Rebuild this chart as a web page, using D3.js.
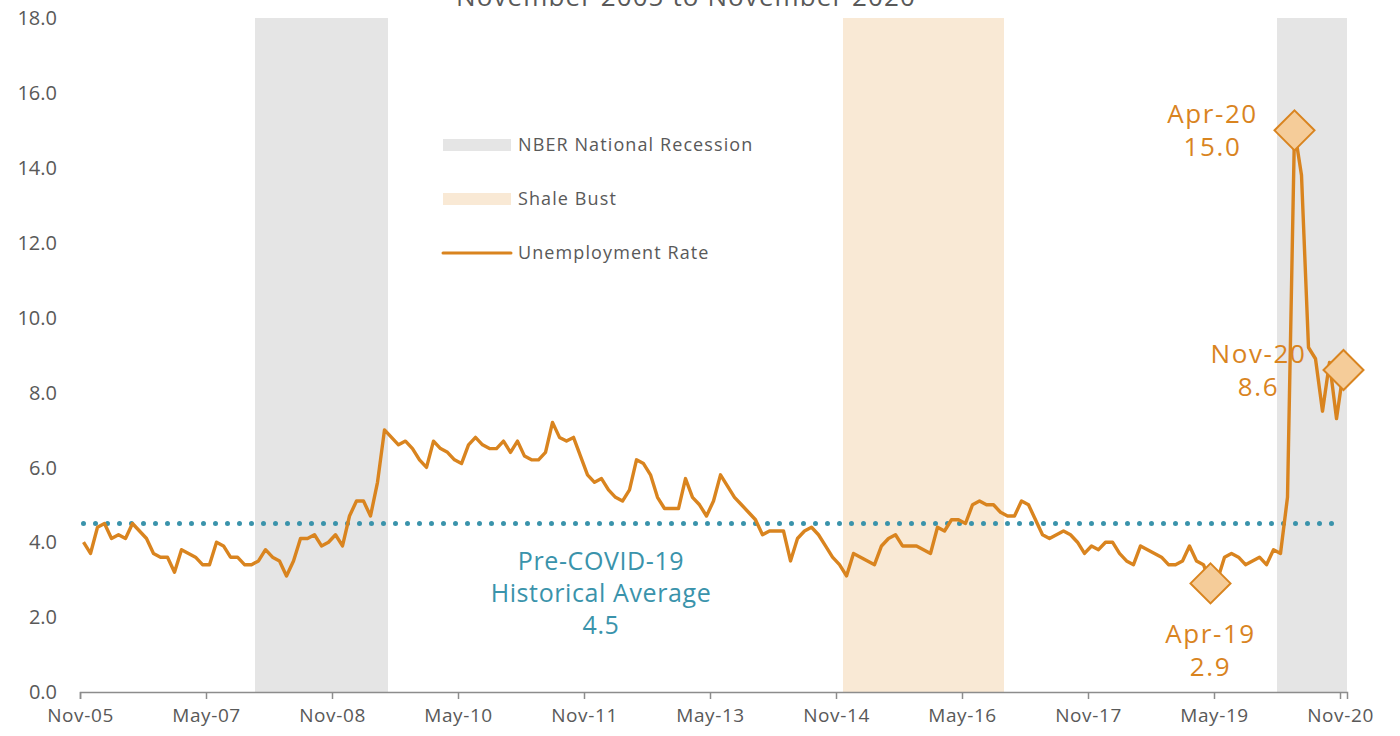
<!DOCTYPE html>
<html><head><meta charset="utf-8">
<script src="https://cdn.jsdelivr.net/npm/d3@7"></script>
<style>
html,body{margin:0;padding:0;background:#fff;}
svg{display:block;font-family:"Open Sans",sans-serif;}
</style></head>
<body>
<script>
// ---- data ----
const startMonth = "2005-11"; // Nov-05, monthly to Nov-20
const unemployment = [
 4.0,3.7,4.4,4.5,4.1,4.2,4.1,4.5,4.3,4.1,
 3.7,3.6,3.6,3.2,3.8,3.7,3.6,3.4,3.4,4.0,
 3.9,3.6,3.6,3.4,3.4,3.5,3.8,3.6,3.5,3.1,
 3.5,4.1,4.1,4.2,3.9,4.0,4.2,3.9,4.7,5.1,
 5.1,4.7,5.6,7.0,6.8,6.6,6.7,6.5,6.2,6.0,
 6.7,6.5,6.4,6.2,6.1,6.6,6.8,6.6,6.5,6.5,
 6.7,6.4,6.7,6.3,6.2,6.2,6.4,7.2,6.8,6.7,
 6.8,6.3,5.8,5.6,5.7,5.4,5.2,5.1,5.4,6.2,
 6.1,5.8,5.2,4.9,4.9,4.9,5.7,5.2,5.0,4.7,
 5.1,5.8,5.5,5.2,5.0,4.8,4.6,4.2,4.3,4.3,
 4.3,3.5,4.1,4.3,4.4,4.2,3.9,3.6,3.4,3.1,
 3.7,3.6,3.5,3.4,3.9,4.1,4.2,3.9,3.9,3.9,
 3.8,3.7,4.4,4.3,4.6,4.6,4.5,5.0,5.1,5.0,
 5.0,4.8,4.7,4.7,5.1,5.0,4.6,4.2,4.1,4.2,
 4.3,4.2,4.0,3.7,3.9,3.8,4.0,4.0,3.7,3.5,
 3.4,3.9,3.8,3.7,3.6,3.4,3.4,3.5,3.9,3.5,
 3.4,2.9,3.0,3.6,3.7,3.6,3.4,3.5,3.6,3.4,
 3.8,3.7,5.2,15.0,13.8,9.2,8.9,7.5,8.8,7.3,8.6
];
const historicalAverage = 4.5;
// shaded periods as [first month index, last month index] (0 = Nov-05)
const nberRecessions = [[25,43],[171,180]];
const shaleBust = [[109,131]];
const xTickIndex = [0,18,36,54,72,90,108,126,144,162,180];
const xTickLabels = ["Nov-05","May-07","Nov-08","May-10","Nov-11","May-13","Nov-14","May-16","Nov-17","May-19","Nov-20"];
const yTicks = [0,2,4,6,8,10,12,14,16,18];
const highlights = [
  {i:161, label:"Apr-19", pos:"below"},
  {i:173, label:"Apr-20", pos:"left"},
  {i:180, label:"Nov-20", pos:"leftlow"}
];
const legendItems = [
  {name:"NBER National Recession", type:"rect", color:"#E5E5E5"},
  {name:"Shale Bust", type:"rect", color:"#F9E9D5"},
  {name:"Unemployment Rate", type:"line", color:"#D9841F"}
];

// ---- colours ----
const ORANGE = "#D9841F", TEAL = "#3A93AB", GRAY_TXT = "#595959";

const W = 1400, H = 736;
const svg = d3.select("body").append("svg").attr("width", W).attr("height", H);

const x = d3.scaleLinear().domain([0, 181]).range([80, 1347]);
const y = d3.scaleLinear().domain([0, 18]).range([692, 18]);
const xp = i => x(i + 0.5);

// bands
const bands = svg.append("g");
bands.selectAll("rect.nber").data(nberRecessions).join("rect")
  .attr("x", d => x(d[0])).attr("width", d => x(d[1] + 1) - x(d[0]))
  .attr("y", y(18)).attr("height", y(0) - y(18)).attr("fill", "#E5E5E5");
bands.selectAll("rect.shale").data(shaleBust).join("rect")
  .attr("x", d => x(d[0])).attr("width", d => x(d[1] + 1) - x(d[0]))
  .attr("y", y(18)).attr("height", y(0) - y(18)).attr("fill", "#F9E9D5");

// title (partially cut at top, as in the reference)
svg.append("text").attr("x", 686).attr("y", 6).attr("text-anchor", "middle")
  .attr("font-size", 26).attr("fill", GRAY_TXT).attr("letter-spacing", 1.1)
  .text("November 2005 to November 2020");

// y axis labels
svg.append("g").selectAll("text").data(yTicks).join("text")
  .attr("x", 57).attr("y", d => y(d)).attr("dy", "0.36em")
  .attr("text-anchor", "end").attr("font-size", 20).attr("fill", GRAY_TXT)
  .text(d => d.toFixed(1));

// x axis
const xAxis = d3.axisBottom(x).tickValues(xTickIndex)
  .tickFormat((d, k) => xTickLabels[k]).tickSizeOuter(0).tickSize(7).tickPadding(10);
const gx = svg.append("g").attr("transform", `translate(0,${y(0)})`).call(xAxis);
gx.select(".domain").attr("stroke", "#8C8C8C").attr("stroke-width", 1.5);
gx.selectAll(".tick line").attr("stroke", "#8C8C8C").attr("stroke-width", 1.5);
gx.selectAll(".tick text").attr("font-size", 19).attr("fill", GRAY_TXT)
  .attr("letter-spacing", 0.6).attr("font-family", "Open Sans, sans-serif");

// average dotted line
svg.append("line")
  .attr("x1", xp(0)).attr("x2", xp(179))
  .attr("y1", y(historicalAverage)).attr("y2", y(historicalAverage))
  .attr("stroke", TEAL).attr("stroke-width", 5).attr("stroke-linecap", "round")
  .attr("stroke-dasharray", "0,12");

// average label
const avgLbl = svg.append("text").attr("text-anchor", "middle").attr("fill", TEAL)
  .attr("font-size", 25).attr("letter-spacing", 0.6);
["Pre-COVID-19", "Historical Average", historicalAverage.toFixed(1)].forEach((t, k) => {
  avgLbl.append("tspan").attr("x", 601).attr("y", y(historicalAverage) + 46 + k * 32).text(t);
});

// line
const line = d3.line().x((d, i) => xp(i)).y(d => y(d));
svg.append("path").datum(unemployment).attr("d", line)
  .attr("fill", "none").attr("stroke", ORANGE).attr("stroke-width", 3.4)
  .attr("stroke-linejoin", "round");

// highlight markers
const R = 20;
svg.append("g").selectAll("path").data(highlights).join("path")
  .attr("d", d => {
    const cx = xp(d.i), cy = y(unemployment[d.i]);
    return `M${cx},${cy - R}L${cx + R},${cy}L${cx},${cy + R}L${cx - R},${cy}Z`;
  })
  .attr("fill", "#F5CC99").attr("stroke", ORANGE).attr("stroke-width", 2);

// highlight labels
highlights.forEach(d => {
  const cx = xp(d.i), cy = y(unemployment[d.i]);
  let lx, ly;
  if (d.pos === "below") { lx = cx; ly = cy + 60; }
  else if (d.pos === "left") { lx = cx - 82; ly = cy - 7; }
  else { lx = cx - 85; ly = cy - 7; }
  const t = svg.append("text").attr("text-anchor", "middle").attr("fill", ORANGE)
    .attr("font-size", 26).attr("letter-spacing", 1.6);
  t.append("tspan").attr("x", lx).attr("y", ly).text(d.label);
  t.append("tspan").attr("x", lx).attr("y", ly + 33).text(unemployment[d.i].toFixed(1));
});

// legend
const lg = svg.append("g");
legendItems.forEach((d, k) => {
  const cy = 145 + k * 54;
  if (d.type === "rect") {
    lg.append("rect").attr("x", 443).attr("y", cy - 6).attr("width", 68).attr("height", 12).attr("fill", d.color);
  } else {
    lg.append("line").attr("x1", 443).attr("x2", 511).attr("y1", cy).attr("y2", cy)
      .attr("stroke", d.color).attr("stroke-width", 3).attr("stroke-linecap", "round");
  }
  lg.append("text").attr("x", 518).attr("y", cy).attr("dy", "0.36em")
    .attr("font-size", 18).attr("fill", GRAY_TXT).attr("letter-spacing", 1.1).text(d.name);
});
</script>
</body></html>
